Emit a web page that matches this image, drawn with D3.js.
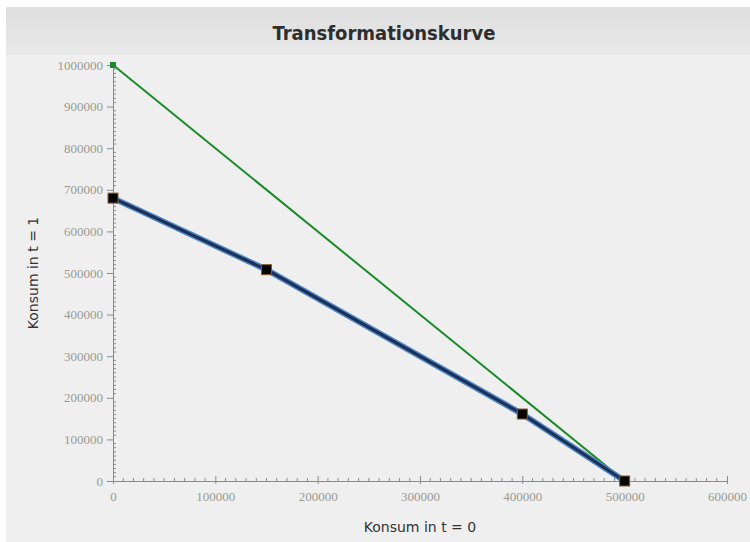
<!DOCTYPE html>
<html>
<head>
<meta charset="utf-8">
<script src="https://cdn.jsdelivr.net/npm/d3@7"></script>
<style>
  body { margin: 0; background: #fff; }
</style>
</head>
<body>
<div id="chart"></div>
<script>
// Daten
const kurveX = [0, 150000, 400000, 500000];
const kurveY = [680000, 508000, 161000, 0];
const geradeX = [0, 500000];
const geradeY = [1000000, 0];
const xTicks = [0, 100000, 200000, 300000, 400000, 500000, 600000];
const yTicks = [0, 100000, 200000, 300000, 400000, 500000, 600000, 700000, 800000, 900000, 1000000];

const width = 750;
const height = 542;
const margin = { top: 65, right: 23, bottom: 61, left: 113 };
const w = width - margin.left - margin.right;
const h = height - margin.top - margin.bottom;

const svg = d3.select("#chart").append("svg")
  .attr("width", width)
  .attr("height", height);

// Hintergrund
const defs = svg.append("defs");
const grad = defs.append("linearGradient")
  .attr("id", "hdr").attr("x1", 0).attr("y1", 0).attr("x2", 0).attr("y2", 1);
grad.append("stop").attr("offset", "0%").attr("stop-color", "#dedede");
grad.append("stop").attr("offset", "100%").attr("stop-color", "#e9e9e9");

svg.append("rect").attr("x", 6).attr("y", 7).attr("width", width - 6).attr("height", height - 7)
  .attr("fill", "#efefef");
svg.append("rect").attr("x", 6).attr("y", 7).attr("width", width - 6).attr("height", 48)
  .attr("fill", "url(#hdr)");

svg.append("text")
  .attr("x", 384).attr("y", 40)
  .attr("text-anchor", "middle")
  .style("font-family", "'DejaVu Sans Condensed', 'DejaVu Sans', sans-serif")
  .style("font-weight", "bold")
  .style("font-size", "20px")
  .style("fill", "#2e2e2e")
  .text("Transformationskurve");

const g = svg.append("g").attr("transform", `translate(${margin.left},${margin.top})`);

const x = d3.scaleLinear().domain([0, 600000]).range([0, w]);
const y = d3.scaleLinear().domain([0, 1000000]).range([h, 0]);

const axisColor = "#8a8a8a";
const tickFont = "'Liberation Serif', serif";

// Kleine Striche
const xMinor = d3.range(0, 600001, 10000).filter(v => v % 100000 !== 0);
const yMinor = d3.range(0, 1000001, 10000).filter(v => v % 100000 !== 0);

g.append("g").selectAll("line").data(xMinor).enter().append("line")
  .attr("x1", d => x(d)).attr("x2", d => x(d))
  .attr("y1", h - 3).attr("y2", h)
  .attr("stroke", axisColor);

g.append("g").selectAll("line").data(yMinor).enter().append("line")
  .attr("x1", 0).attr("x2", 3)
  .attr("y1", d => y(d)).attr("y2", d => y(d))
  .attr("stroke", axisColor);

// X-Achse
const xAxis = g.append("g")
  .attr("transform", `translate(0,${h})`)
  .call(d3.axisBottom(x).tickValues(xTicks).tickFormat(d3.format("d")).tickSize(0).tickPadding(11));
xAxis.selectAll(".tick line").attr("y1", -5).attr("y2", 3).attr("stroke", axisColor);
xAxis.select(".domain").attr("stroke", axisColor);

// Y-Achse
const yAxis = g.append("g")
  .call(d3.axisLeft(y).tickValues(yTicks).tickFormat(d3.format("d")).tickSize(6).tickPadding(4));
yAxis.select(".domain").attr("stroke", axisColor);
yAxis.selectAll(".tick line").attr("stroke", axisColor);

[xAxis, yAxis].forEach(a => a.selectAll("text")
  .style("font-family", tickFont)
  .style("font-size", "13px")
  .style("fill", "#9a9a90"));

// Achsentitel
svg.append("text")
  .attr("x", margin.left + x(300000)).attr("y", 532)
  .attr("text-anchor", "middle")
  .style("font-family", "'DejaVu Sans', sans-serif")
  .style("font-size", "14px")
  .style("fill", "#333")
  .text("Konsum in t = 0");

svg.append("text")
  .attr("transform", `translate(38,${margin.top + y(500000)}) rotate(-90)`)
  .attr("text-anchor", "middle")
  .style("font-family", "'DejaVu Sans', sans-serif")
  .style("font-size", "14px")
  .style("fill", "#333")
  .text("Konsum in t = 1");

// Gerade (grün)
const gerade = geradeX.map((v, i) => [v, geradeY[i]]);
const kurve = kurveX.map((v, i) => [v, kurveY[i]]);
const line = d3.line().x(d => x(d[0])).y(d => y(d[1]));

g.append("path")
  .datum(gerade)
  .attr("d", line)
  .attr("fill", "none")
  .attr("stroke", "#1b8a2a")
  .attr("stroke-width", 2);

g.selectAll(".gpt").data(gerade.slice(0, 1)).enter().append("rect")
  .attr("class", "gpt")
  .attr("x", d => x(d[0]) - 3).attr("y", d => y(d[1]) - 3)
  .attr("width", 6).attr("height", 6)
  .attr("fill", "#1b8a2a");

// Kurve (blau)
g.append("path")
  .datum(kurve)
  .attr("d", line)
  .attr("fill", "none")
  .attr("stroke", "#4d86c8")
  .attr("stroke-width", 6);

g.append("path")
  .datum(kurve)
  .attr("d", line)
  .attr("fill", "none")
  .attr("stroke", "#1c2f55")
  .attr("stroke-width", 3);

g.selectAll(".kpt").data(kurve).enter().append("rect")
  .attr("class", "kpt")
  .attr("x", d => x(d[0]) - 5).attr("y", d => y(d[1]) - 5)
  .attr("width", 10).attr("height", 10)
  .attr("fill", "#050505")
  .attr("stroke", "#8a5a2a")
  .attr("stroke-width", 1);
</script>
</body>
</html>
